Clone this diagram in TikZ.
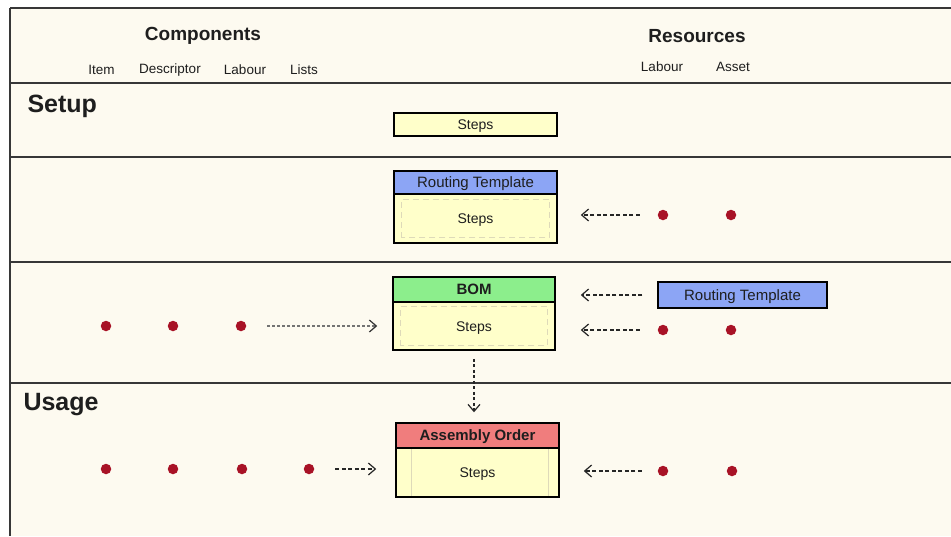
\documentclass[tikz,border=0pt]{standalone}
\usepackage{fontspec}
\setmainfont{Liberation Sans}
\usetikzlibrary{arrows.meta,calc}

\definecolor{paper}{RGB}{253,250,240}
\definecolor{ruleline}{RGB}{55,55,55}
\definecolor{stepfill}{RGB}{255,255,202}
\definecolor{tplblue}{RGB}{140,165,245}
\definecolor{bomgreen}{RGB}{140,238,140}
\definecolor{ordred}{RGB}{240,125,125}
\definecolor{pinred}{RGB}{168,18,38}
\definecolor{faint}{RGB}{222,218,185}
\definecolor{ink}{RGB}{30,30,30}

\begin{document}
\begin{tikzpicture}[x=1pt,y=-1pt,
  colhead/.style={font=\fontsize{19}{22}\selectfont\bfseries, text=ink},
  rowtitle/.style={font=\fontsize{25}{28}\selectfont\bfseries, text=ink, anchor=west},
  collabel/.style={font=\fontsize{13.5}{16}\selectfont, text=ink},
  dotpin/.style={circle, fill=pinred, inner sep=0, minimum size=10.5},
  divider/.style={draw=ruleline, line width=2.2},
  stepbody/.style={draw=black, line width=1.5, fill=stepfill, inner sep=0,
    text height=10, text depth=0,
    minimum width=163, minimum height=49, text=ink, font=\fontsize{14}{16}\selectfont},
  boxhead/.style={draw=black, line width=1.5, inner sep=0,
    text height=10.5, text depth=0,
    minimum width=163, minimum height=24, text=ink, font=\fontsize{15}{17}\selectfont},
  link/.style={draw=black!85, line width=1.1, dash pattern=on 4 off 2.5,
    -{Straight Barb[length=7,width=12,line width=1.2]}},
  feed/.style={draw=black!55, line width=1.3, dash pattern=on 2.5 off 2.5,
    -{Straight Barb[length=7,width=12,line width=1.2,color=black!80]}},
  inner/.style={draw=faint, line width=0.8, dash pattern=on 6 off 4}
]
\useasboundingbox (0,0) rectangle (951,536);
\fill[white] (0,0) rectangle (951,536);
\fill[paper] (10,8) rectangle (951,536);

% frame and row dividers
\draw[divider] (10,8) -- (951,8);
\draw[divider] (10,8) -- (10,536);
\draw[divider] (10,83) -- (951,83);
\draw[divider] (10,157) -- (951,157);
\draw[divider] (10,262) -- (951,262);
\draw[divider] (10,383) -- (951,383);

% column headings
\node[colhead] (hcomp) at (203,36) {Components};
\node[colhead] (hres) at (697,36) {Resources};
\node[collabel] (litem) at (101.5,70) {Item};
\node[collabel] (ldesc) at (170,70) {Descriptor};
\node[collabel] (llab) at (245,70) {Labour};
\node[collabel] (llist) at (304,70) {Lists};
\node[collabel] (rlab) at (662,67) {Labour};
\node[collabel] (rass) at (733,67) {Asset};

% row titles
\node[rowtitle] (tsetup) at (24,106) {Setup};
\node[rowtitle] (tusage) at (20,405) {Usage};

% setup: steps
\node[stepbody, minimum height=23] (ss) at (475.5,124.5) {Steps};

% routing template
\node[stepbody] (rtb) at (475.5,218.5) {Steps};
\node[boxhead, fill=tplblue, minimum height=23] (rth) at (475.5,182.5) {Routing Template};
\draw[inner] ($(rtb.south west)+(8,-6)$) rectangle ($(rtb.north east)+(-8,6)$);
\node[dotpin] (r2a) at (663,215) {};
\node[dotpin] (r2b) at (731,215) {};
\draw[link, shorten <=18, shorten >=23] (r2a) -- (r2a -| rtb.east);

% bill of materials
\node[stepbody, minimum width=162, minimum height=48] (bomb) at (474,326) {Steps};
\node[boxhead, fill=bomgreen, minimum width=162, minimum height=25, font=\fontsize{15}{17}\selectfont\bfseries] (bomh) at (474,289.5) {BOM};
\draw[inner] ($(bomb.south west)+(8,-5)$) rectangle ($(bomb.north east)+(-8,5)$);
\node[dotpin] (c1) at (106,326) {};
\node[dotpin] (c2) at (173,326) {};
\node[dotpin] (c3) at (241,326) {};
\draw[feed, shorten <=21, shorten >=15] (c3) -- (c3 -| bomb.west);
\node[draw=black, line width=1.3, fill=tplblue, inner sep=0, minimum width=169,
  minimum height=26, text height=10.5, text depth=0, text=ink,
  font=\fontsize{15}{17}\selectfont] (rtr) at (742.5,295) {Routing Template};
\draw[link, shorten <=15, shorten >=25] (rtr.west) -- (rtr.west -| bomb.east);
\node[dotpin] (r3a) at (663,330) {};
\node[dotpin] (r3b) at (731,330) {};
\draw[link, shorten <=18, shorten >=25] (r3a) -- (r3a -| bomb.east);

% assembly order
\node[stepbody] (aob) at (477.5,472.5) {Steps};
\node[boxhead, fill=ordred, minimum height=25, font=\fontsize{15}{17}\selectfont\bfseries] (aoh) at (477.5,435.5) {Assembly Order};
\draw[faint, line width=0.8] ($(aob.north west)+(16,2)$) -- ($(aob.south west)+(16,-2)$);
\draw[faint, line width=0.8] ($(aob.north east)+(-11,2)$) -- ($(aob.south east)+(-11,-2)$);
\draw[link, dash pattern=on 3 off 2.5, shorten <=8, shorten >=10] (bomb.south) -- (bomb.south |- aoh.north);
\node[dotpin] (u1) at (106,469) {};
\node[dotpin] (u2) at (173,469) {};
\node[dotpin] (u3) at (242,469) {};
\node[dotpin] (u4) at (309,469) {};
\draw[link, shorten <=21, shorten >=19] (u4) -- (u4 -| aob.west);
\node[dotpin] (r4a) at (663,471) {};
\node[dotpin] (r4b) at (732,471) {};
\draw[link, shorten <=16, shorten >=24] (r4a) -- (r4a -| aob.east);
\end{tikzpicture}
\end{document}
